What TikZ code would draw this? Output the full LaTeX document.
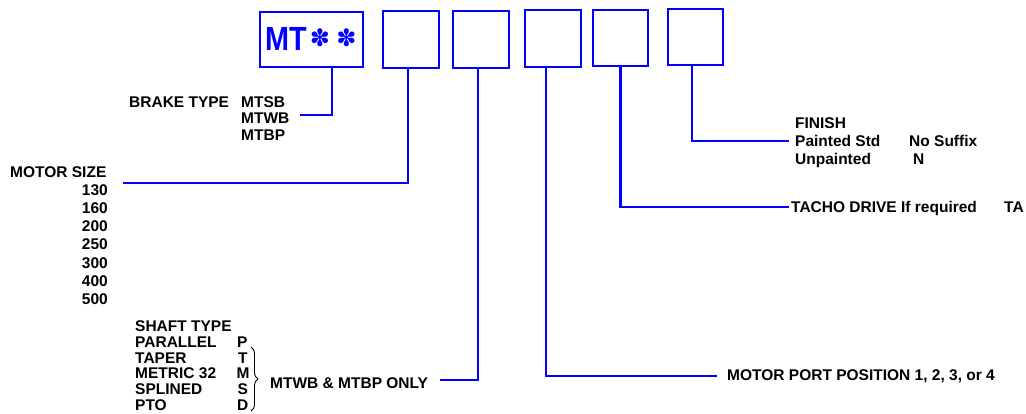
\documentclass[tikz,border=0pt]{standalone}
\usepackage{fontspec}
\setmainfont{Liberation Sans}
\newfontfamily\symfont{DejaVu Sans}
\usetikzlibrary{decorations.pathreplacing}
\definecolor{pblue}{RGB}{0,0,255}
\tikzset{
  x=1pt, y=-1pt,
  codebox/.style={draw=pblue, line width=2.8pt, inner sep=0pt, fill=white},
  conn/.style={draw=pblue, line width=2.2pt},
  lbl/.style={anchor=base west, inner sep=0pt, font=\fontsize{15.5}{16}\selectfont\bfseries},
  lblr/.style={anchor=base east, inner sep=0pt, font=\fontsize{15.5}{16}\selectfont\bfseries},
  star/.style={inner sep=0pt, text=pblue, font=\symfont\fontsize{24}{24}\selectfont},
}
\begin{document}
\begin{tikzpicture}
\useasboundingbox (0,0) rectangle (1026,413);
% boxes
\node[codebox, minimum width=103pt, minimum height=55pt] (b1) at (311.5,39.5) {};
\node[anchor=base west, inner sep=0pt, text=pblue, font=\fontsize{33.5}{34}\selectfont\bfseries, xscale=0.86] (mt) at (265,50) {MT};
\node[star] (st1) at (320,37.5) {✽};
\node[star] (st2) at (346.5,37.5) {✽};
\node[codebox, minimum width=56pt, minimum height=57pt] (b2) at (411,39.5) {};
\node[codebox, minimum width=56pt, minimum height=57pt] (b3) at (481,39.5) {};
\node[codebox, minimum width=56pt, minimum height=57pt] (b4) at (553,38.5) {};
\node[codebox, minimum width=55pt, minimum height=56pt] (b5) at (620.5,38) {};
\node[codebox, minimum width=55pt, minimum height=56pt] (b6) at (695.5,37) {};

% brake type
\node[lbl] (brk) at (129,107) {BRAKE TYPE};
\node[lbl] (mtsb) at (241,107) {MTSB};
\node[lbl] (mtwb) at (241,123) {MTWB};
\node[lbl] (mtbp) at (241,140) {MTBP};
\coordinate (c1) at (300,115);
\draw[conn] ([xshift=20.5pt]b1.south) |- (c1);

% motor size
\node[lbl] (msz) at (10,177) {MOTOR SIZE};
\node[lblr] (s130) at (108,195) {130};
\node[lblr] (s160) at (108,213.3) {160};
\node[lblr] (s200) at (108,231.6) {200};
\node[lblr] (s250) at (108,249.9) {250};
\node[lblr] (s300) at (108,268.2) {300};
\node[lblr] (s400) at (108,286.5) {400};
\node[lblr] (s500) at (108,304.8) {500};
\coordinate (c2) at (123,183);
\draw[conn] ([xshift=-3pt]b2.south) |- (c2);

% shaft type
\node[lbl] (sht) at (135,331) {SHAFT TYPE};
\node[lbl] (par) at (135,347) {PARALLEL};
\node[lbl] (tap) at (135,363) {TAPER};
\node[lbl] (met) at (135,378.5) {METRIC 32};
\node[lbl] (spl) at (135,394.3) {SPLINED};
\node[lbl] (pto) at (135,410) {PTO};
\node[lbl] (lp) at (237,347) {P};
\node[lbl] (lt) at (238,363) {T};
\node[lbl] (lm) at (236.5,378.5) {M};
\node[lbl] (ls) at (237.5,394.3) {S};
\node[lbl] (ld) at (237,410) {D};
\coordinate (brt) at (251,347);
\coordinate (brb) at (251,411);
\draw[line width=0.9pt, decorate, decoration={brace, amplitude=7pt}] (brt) -- (brb);
\node[lbl] (only) at (270,388) {MTWB \& MTBP ONLY};
\coordinate (c3) at (440,380);
\draw[conn] ([xshift=-3pt]b3.south) |- (c3);

% motor port
\coordinate (c4) at (717,376);
\draw[conn] ([xshift=-7pt]b4.south) |- (c4);
\node[lbl] (port) at (727,380) {MOTOR PORT POSITION 1, 2, 3, or 4};

% tacho
\coordinate (c5) at (789,207);
\draw[conn] (b5.south) |- (c5);
\node[lbl] (tacho) at (791,212) {TACHO DRIVE If required};
\node[lbl] (ta) at (1004,212) {TA};

% finish
\coordinate (c6) at (789,141);
\draw[conn] ([xshift=-3.5pt]b6.south) |- (c6);
\node[lbl] (fin) at (795,128) {FINISH};
\node[lbl] (pnt) at (795,146) {Painted Std};
\node[lbl] (unp) at (795,164) {Unpainted};
\node[lbl] (nos) at (909,146) {No Suffix};
\node[lbl] (nn) at (913,164) {N};
\end{tikzpicture}
\end{document}
